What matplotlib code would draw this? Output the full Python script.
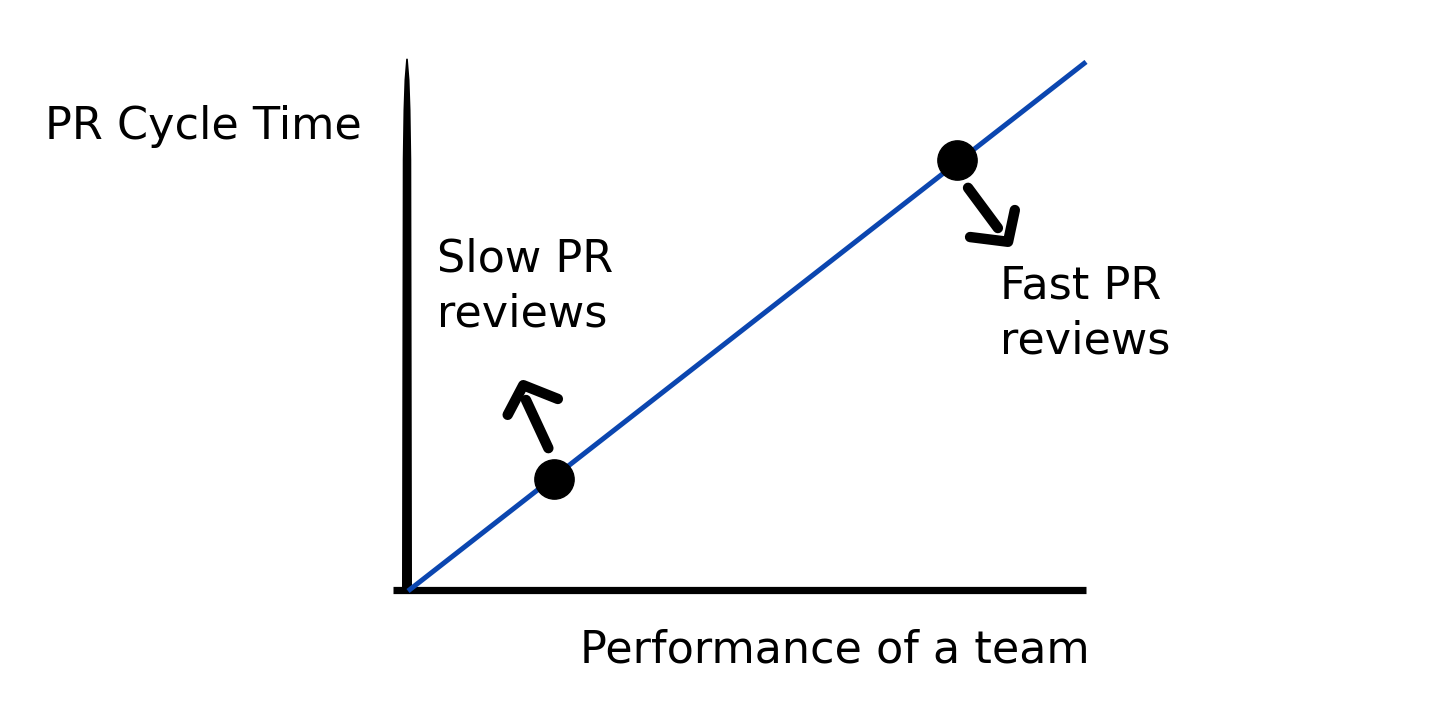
import numpy as np
import matplotlib
matplotlib.use("Agg")
import matplotlib.pyplot as plt

# diagram data (arbitrary units: 0..10 on both axes)
line_x = [0, 10]
line_y = [0, 10]
pts_x = [2.15, 8.1]
pts_y = [2.12, 8.15]

# hand-drawn arrows: shaft start/end, head wing-tip-wing
up_shaft = ([2.07, 1.74], [2.70, 3.61])
up_head = ([1.47, 1.70, 2.21], [3.33, 3.89, 3.63])
down_shaft = ([8.26, 8.70], [7.62, 6.86])
down_head = ([8.29, 8.85, 8.95], [6.69, 6.60, 7.20])

y_label = "PR Cycle Time"
x_label = "Performance of a team"
slow_txt = "Slow PR\nreviews"
fast_txt = "Fast PR\nreviews"

fig = plt.figure(figsize=(14.56, 7.18), dpi=100)
ax = fig.add_axes([0, 0, 1, 1])
ax.set_xlim(-6.018, 15.457)
ax.set_ylim(-2.40, 11.17)
ax.axis("off")

# tapered vertical axis (brush stroke)
cx = -0.015
hy = [-0.02, 8.15, 9.09, 9.66, 10.06]
hw = [0.074, 0.063, 0.052, 0.037, 0.012]
vx = [cx - w for w in hw] + [cx + w for w in hw[::-1]]
vy = hy + hy[::-1]
ax.fill(vx, vy, color="black", lw=0)
# horizontal axis
ax.plot([-0.22, 10.0], [0.02, 0.02], color="black", lw=5.2, solid_capstyle="butt")

ax.plot(line_x, line_y, color="#0b46b0", lw=3.6, solid_capstyle="butt", zorder=3)
ax.scatter(pts_x, pts_y, s=800, color="black", zorder=4)

for sx, sy in (up_shaft, down_shaft):
    ax.plot(sx, sy, color="black", lw=7.5, solid_capstyle="round")
for hx, hy2 in (up_head, down_head):
    ax.plot(hx, hy2, color="black", lw=7.5, solid_capstyle="round", solid_joinstyle="round")

fs = 32
ax.text(-5.35, 8.77, y_label, fontsize=fs, ha="left", va="center")
ax.text(0.43, 5.75, slow_txt, fontsize=fs, ha="left", va="center", linespacing=1.35)
ax.text(8.73, 5.24, fast_txt, fontsize=fs, ha="left", va="center", linespacing=1.35)
ax.text(2.54, -1.12, x_label, fontsize=fs, ha="left", va="center")

fig.savefig("out.png", dpi=100)
